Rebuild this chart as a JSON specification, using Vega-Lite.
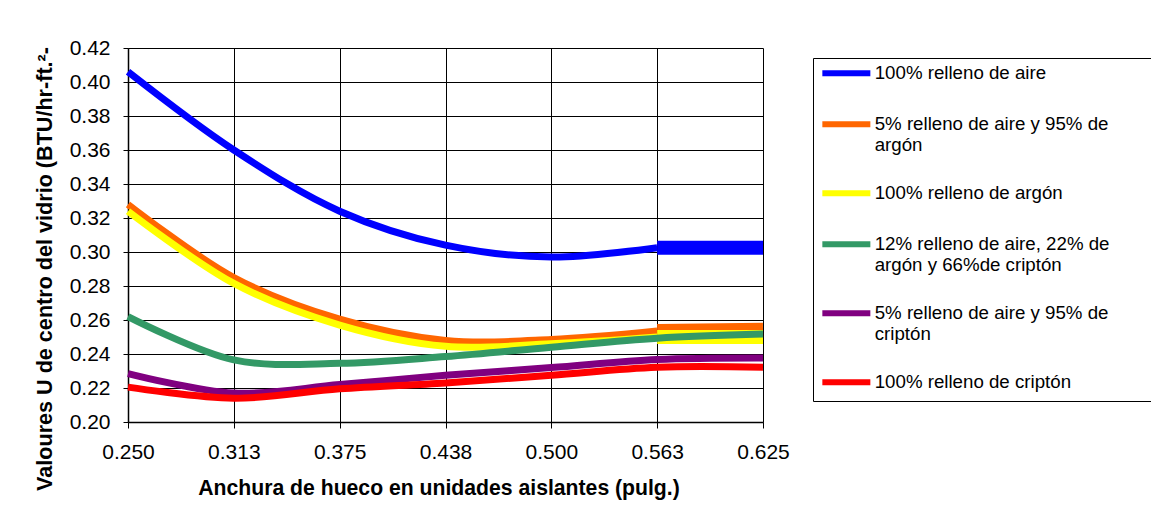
{
  "$schema": "https://vega.github.io/schema/vega-lite/v6.json",
  "autosize": "none",
  "width": 635,
  "height": 374,
  "padding": {"left": 128, "top": 48, "right": 388, "bottom": 103},
  "background": "white",
  "config": {
    "view": {"stroke": null},
    "font": "Liberation Sans"
  },
  "data": {
    "values": [
      {"s": "100% relleno de aire", "x": 0.25, "y": 0.406},
      {"s": "100% relleno de aire", "x": 0.3125, "y": 0.360},
      {"s": "100% relleno de aire", "x": 0.375, "y": 0.324},
      {"s": "100% relleno de aire", "x": 0.4375, "y": 0.304},
      {"s": "100% relleno de aire", "x": 0.5, "y": 0.297},
      {"s": "100% relleno de aire", "x": 0.5625, "y": 0.3025},
      {"s": "100% relleno de aire", "x": 0.625, "y": 0.3025},
      {"s": "5% relleno de aire y 95% de argón", "x": 0.25, "y": 0.328},
      {"s": "5% relleno de aire y 95% de argón", "x": 0.3125, "y": 0.285},
      {"s": "5% relleno de aire y 95% de argón", "x": 0.375, "y": 0.2605},
      {"s": "5% relleno de aire y 95% de argón", "x": 0.4375, "y": 0.248},
      {"s": "5% relleno de aire y 95% de argón", "x": 0.5, "y": 0.2485},
      {"s": "5% relleno de aire y 95% de argón", "x": 0.5625, "y": 0.2535},
      {"s": "5% relleno de aire y 95% de argón", "x": 0.625, "y": 0.2542},
      {"s": "100% relleno de argón", "x": 0.25, "y": 0.324},
      {"s": "100% relleno de argón", "x": 0.3125, "y": 0.2815},
      {"s": "100% relleno de argón", "x": 0.375, "y": 0.257},
      {"s": "100% relleno de argón", "x": 0.4375, "y": 0.2445},
      {"s": "100% relleno de argón", "x": 0.5, "y": 0.246},
      {"s": "100% relleno de argón", "x": 0.5625, "y": 0.25},
      {"s": "100% relleno de argón", "x": 0.625, "y": 0.25},
      {"s": "12% relleno de aire, 22% de argón y 66%de criptón", "x": 0.25, "y": 0.262},
      {"s": "12% relleno de aire, 22% de argón y 66%de criptón", "x": 0.3125, "y": 0.2365},
      {"s": "12% relleno de aire, 22% de argón y 66%de criptón", "x": 0.375, "y": 0.2345},
      {"s": "12% relleno de aire, 22% de argón y 66%de criptón", "x": 0.4375, "y": 0.2385},
      {"s": "12% relleno de aire, 22% de argón y 66%de criptón", "x": 0.5, "y": 0.244},
      {"s": "12% relleno de aire, 22% de argón y 66%de criptón", "x": 0.5625, "y": 0.2493},
      {"s": "12% relleno de aire, 22% de argón y 66%de criptón", "x": 0.625, "y": 0.2517},
      {"s": "5% relleno de aire y 95% de criptón", "x": 0.25, "y": 0.2285},
      {"s": "5% relleno de aire y 95% de criptón", "x": 0.3125, "y": 0.217},
      {"s": "5% relleno de aire y 95% de criptón", "x": 0.375, "y": 0.222},
      {"s": "5% relleno de aire y 95% de criptón", "x": 0.4375, "y": 0.2275},
      {"s": "5% relleno de aire y 95% de criptón", "x": 0.5, "y": 0.232},
      {"s": "5% relleno de aire y 95% de criptón", "x": 0.5625, "y": 0.2368},
      {"s": "5% relleno de aire y 95% de criptón", "x": 0.625, "y": 0.2377},
      {"s": "100% relleno de criptón", "x": 0.25, "y": 0.2205},
      {"s": "100% relleno de criptón", "x": 0.3125, "y": 0.214},
      {"s": "100% relleno de criptón", "x": 0.375, "y": 0.2195},
      {"s": "100% relleno de criptón", "x": 0.4375, "y": 0.223},
      {"s": "100% relleno de criptón", "x": 0.5, "y": 0.2275},
      {"s": "100% relleno de criptón", "x": 0.5625, "y": 0.2322},
      {"s": "100% relleno de criptón", "x": 0.625, "y": 0.2322}
    ]
  },
  "encoding": {
    "x": {
      "field": "x", "type": "quantitative",
      "scale": {"domain": [0.25, 0.625], "nice": false, "zero": false},
      "axis": {
        "title": "Anchura de hueco en unidades aislantes (pulg.)",
        "values": [0.25, 0.3125, 0.375, 0.4375, 0.5, 0.5625, 0.625],
        "format": ".3f",
        "labelFont": "Liberation Sans", "labelFontSize": 21, "labelColor": "black",
        "labelPadding": 13, "labelFlush": false,
        "tickSize": 6, "tickColor": "black", "domainColor": "black", "domainWidth": 1.5,
        "gridColor": "black", "gridOpacity": 1, "gridWidth": 1,
        "titleFont": "Liberation Sans", "titleFontSize": 21.2, "titleFontWeight": "bold", "titleColor": "black",
        "titlePadding": 15, "titleX": 310.5, "titleAlign": "center"
      }
    },
    "y": {
      "field": "y", "type": "quantitative",
      "scale": {"domain": [0.2, 0.42], "nice": false, "zero": false},
      "axis": {
        "title": "Valoures U de centro del vidrio  (BTU/hr-ft.²-",
        "values": [0.2, 0.22, 0.24, 0.26, 0.28, 0.3, 0.32, 0.34, 0.36, 0.38, 0.4, 0.42],
        "format": ".2f",
        "labelFont": "Liberation Sans", "labelFontSize": 21, "labelColor": "black",
        "labelPadding": 13, "labelFlush": false,
        "tickSize": 5, "tickColor": "black", "domainColor": "black", "domainWidth": 1.5,
        "gridColor": "black", "gridOpacity": 1, "gridWidth": 1,
        "titleFont": "Liberation Sans", "titleFontSize": 21.6, "titleFontWeight": "bold", "titleColor": "black",
        "titleAngle": -90, "titleAlign": "center", "titleBaseline": "middle",
        "titleX": -83, "titleY": 220.5
      }
    },
    "color": {
      "field": "s", "type": "nominal",
      "scale": {
        "domain": [
          "100% relleno de aire",
          "5% relleno de aire y 95% de argón",
          "100% relleno de argón",
          "12% relleno de aire, 22% de argón y 66%de criptón",
          "5% relleno de aire y 95% de criptón",
          "100% relleno de criptón"
        ],
        "range": ["#0000FF", "#FF6600", "#FFFF00", "#339966", "#800080", "#FF0000"]
      },
      "legend": {
        "title": " ",
        "titleOrient": "right", "titlePadding": 50, "titleFontSize": 10,
        "orient": "none", "legendX": 685, "legendY": 10,
        "symbolType": "M-4,0H4", "symbolSize": 144, "symbolStrokeWidth": 6,
        "labelFont": "Liberation Sans", "labelFontSize": 18.7, "labelColor": "black",
        "labelLimit": 600, "labelOffset": 19,
        "symbolOffset": 18,
        "padding": 6, "rowPadding": 26,
        "strokeColor": "black", "fillColor": "white",
        "labelExpr": "datum.label == '5% relleno de aire y 95% de argón' ? ['5% relleno de aire y 95% de', 'argón'] : datum.label == '12% relleno de aire, 22% de argón y 66%de criptón' ? ['12% relleno de aire, 22% de', 'argón y 66%de criptón'] : datum.label == '5% relleno de aire y 95% de criptón' ? ['5% relleno de aire y 95% de', 'criptón'] : datum.label"
      }
    }
  },
  "layer": [
    {
      "transform": [{"filter": "datum.s == '100% relleno de aire' && datum.x > 0.55"}],
      "mark": {"type": "line", "strokeWidth": 14, "strokeCap": "butt", "interpolate": "linear"},
      "encoding": {}
    },
    {
      "transform": [{"filter": "datum.s == '100% relleno de aire' && datum.x < 0.6"}],
      "mark": {"type": "line", "strokeWidth": 7, "strokeCap": "butt", "interpolate": "catmull-rom"},
      "encoding": {}
    },
    {
      "transform": [{"filter": "datum.s == '5% relleno de aire y 95% de argón' && datum.x > 0.55"}],
      "mark": {"type": "line", "strokeWidth": 14, "strokeCap": "butt", "interpolate": "linear"},
      "encoding": {}
    },
    {
      "transform": [{"filter": "datum.s == '5% relleno de aire y 95% de argón' && datum.x < 0.6"}],
      "mark": {"type": "line", "strokeWidth": 7, "strokeCap": "butt", "interpolate": "catmull-rom"},
      "encoding": {}
    },
    {
      "transform": [{"filter": "datum.s == '100% relleno de argón' && datum.x > 0.55"}],
      "mark": {"type": "line", "strokeWidth": 14, "strokeCap": "butt", "interpolate": "linear"},
      "encoding": {}
    },
    {
      "transform": [{"filter": "datum.s == '100% relleno de argón' && datum.x < 0.6"}],
      "mark": {"type": "line", "strokeWidth": 7, "strokeCap": "butt", "interpolate": "catmull-rom"},
      "encoding": {}
    },
    {
      "transform": [{"filter": "datum.s == '12% relleno de aire, 22% de argón y 66%de criptón'"}],
      "mark": {"type": "line", "strokeWidth": 7, "strokeCap": "butt", "interpolate": "catmull-rom"},
      "encoding": {}
    },
    {
      "transform": [{"filter": "datum.s == '5% relleno de aire y 95% de criptón'"}],
      "mark": {"type": "line", "strokeWidth": 7, "strokeCap": "butt", "interpolate": "catmull-rom"},
      "encoding": {}
    },
    {
      "transform": [{"filter": "datum.s == '100% relleno de criptón'"}],
      "mark": {"type": "line", "strokeWidth": 7, "strokeCap": "butt", "interpolate": "catmull-rom"},
      "encoding": {}
    }
  ]
}
